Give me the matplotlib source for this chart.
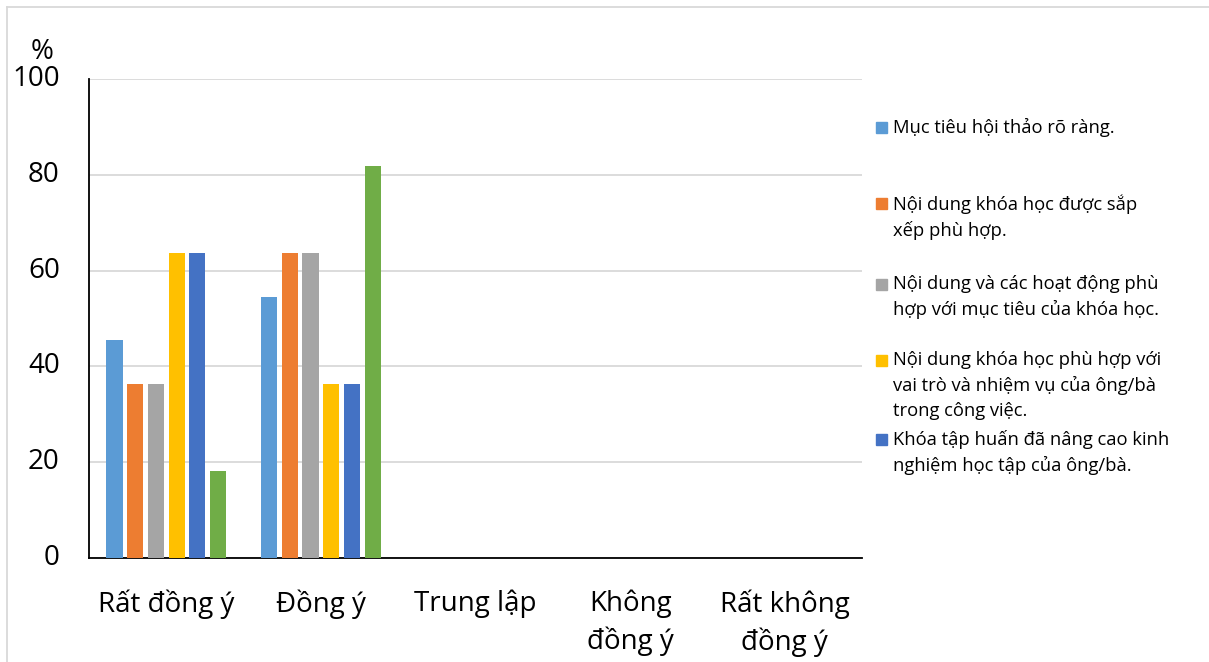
import matplotlib
matplotlib.use("Agg")
import matplotlib.pyplot as plt
import numpy as np
from matplotlib.patches import Rectangle
from matplotlib.lines import Line2D

categories = ["Rất đồng ý", "Đồng ý", "Trung lập", "Không\nđồng ý", "Rất không\nđồng ý"]
series_names = [
    "Mục tiêu hội thảo rõ ràng.",
    "Nội dung khóa học được sắp\nxếp phù hợp.",
    "Nội dung và các hoạt động phù\nhợp với mục tiêu của khóa học.",
    "Nội dung khóa học phù hợp với\nvai trò và nhiệm vụ của ông/bà\ntrong công việc.",
    "Khóa tập huấn đã nâng cao kinh\nnghiệm học tập của ông/bà.",
    "",
]
values = [
    [45.5, 54.5, 0, 0, 0],
    [36.4, 63.6, 0, 0, 0],
    [36.4, 63.6, 0, 0, 0],
    [63.6, 36.4, 0, 0, 0],
    [63.6, 36.4, 0, 0, 0],
    [18.2, 81.8, 0, 0, 0],
]
colors = ["#5B9BD5", "#ED7D31", "#A5A5A5", "#FFC000", "#4472C4", "#70AD47"]

plt.rcParams['font.family'] = ['Open Sans', 'DejaVu Sans']

fig = plt.figure(figsize=(12.09, 6.62), dpi=100)
W, H = 1209, 662
ax = fig.add_axes([89 / W, 1 - 558 / H, (862 - 89) / W, (558 - 79) / H])

x = np.arange(len(categories))
pitch = 0.134
width = 0.105
for i, (vals, c) in enumerate(zip(values, colors)):
    ax.bar(x + (i - 2.5) * pitch, vals, width=width, color=c, zorder=3)

ax.set_xlim(-0.5, len(categories) - 0.5)
ax.set_ylim(0, 100)
ax.set_yticks([0, 20, 40, 60, 80, 100])
ax.set_xticks(x)
ax.set_xticklabels(categories, fontsize=20, linespacing=1.35)
ax.tick_params(axis='y', labelsize=20, length=0, pad=21)
ax.tick_params(axis='x', length=0, pad=23)
for lab in ax.get_yticklabels():
    lab.set_verticalalignment('center')
ax.grid(axis='y', color='#D9D9D9', linewidth=1.3, zorder=0)
for s in ['top', 'right']:
    ax.spines[s].set_visible(False)
ax.spines['left'].set_color('black')
ax.spines['bottom'].set_color('black')
ax.spines['left'].set_linewidth(1.3)
ax.spines['bottom'].set_linewidth(1.3)

fig.text(42 / W, 1 - 52 / H, "%", fontsize=20, ha='center', va='center')

# outer frame
fig.add_artist(Line2D([7 / W, 1], [1 - 7 / H, 1 - 7 / H], color='#D9D9D9', lw=1.3))
fig.add_artist(Line2D([7 / W, 7 / W], [0, 1 - 7 / H], color='#D9D9D9', lw=1.3))

# legend entries, first five series only
legend_y = [127, 203, 284, 360, 439]
for name, c, ly in zip(series_names[:5], colors[:5], legend_y):
    fig.add_artist(Rectangle((876 / W, 1 - (ly + 6) / H), 11 / W, 11 / H,
                             color=c, transform=fig.transFigure))
    fig.text(893 / W, 1 - (ly - 9) / H, name, fontsize=13.2, ha='left', va='top',
             linespacing=1.47)

fig.savefig("out.png", dpi=100)
